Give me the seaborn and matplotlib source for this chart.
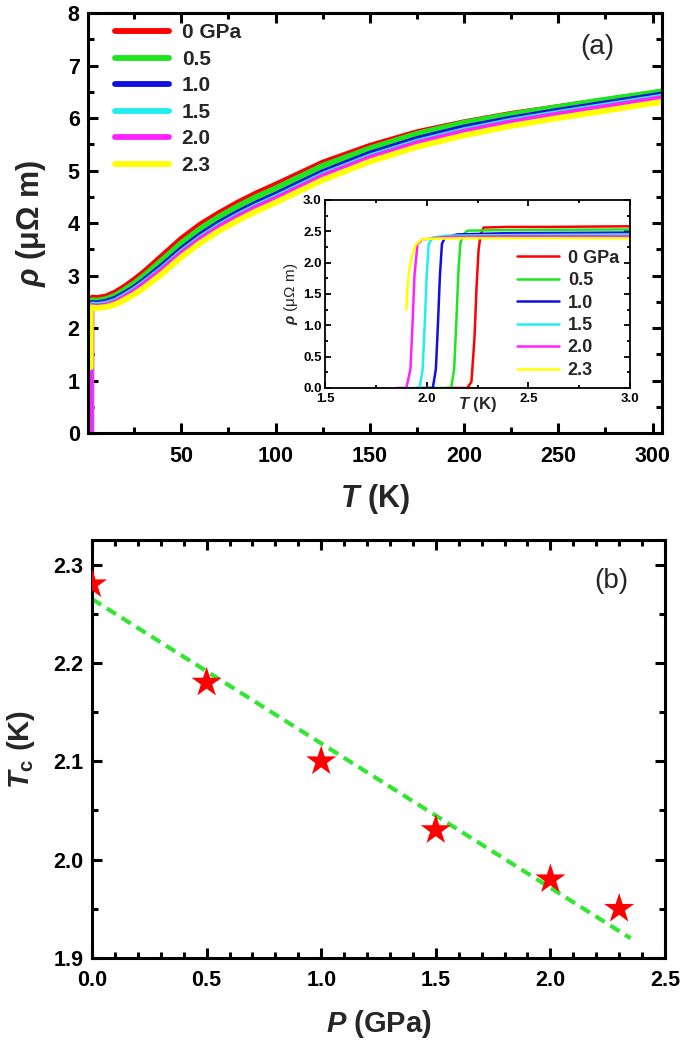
import pandas as pd
import seaborn as sns
import matplotlib.pyplot as plt
from matplotlib.ticker import MultipleLocator

sns.set_style("ticks")
plt.rcParams['font.family'] = ['Liberation Sans', 'DejaVu Sans']
plt.rcParams['font.weight'] = 'bold'
plt.rcParams['mathtext.fontset'] = 'custom'
plt.rcParams['mathtext.it'] = 'Liberation Sans:italic:bold'
plt.rcParams['mathtext.rm'] = 'Liberation Sans:bold'
plt.rcParams['mathtext.bf'] = 'Liberation Sans:bold'

pressures = ["0 GPa", "0.5", "1.0", "1.5", "2.0", "2.3"]
colors = ["#ff0000", "#1ee61e", "#1010dd", "#22eeee", "#ff22ff", "#ffff00"]

# superconducting transition
t_sc_00 = [2.10, 2.20, 2.22, 2.235, 2.245, 2.255, 2.265, 2.28, 2.40, 2.60, 3.00]
rho_sc_00 = [0.00, 0.00, 0.10, 0.80, 1.60, 2.20, 2.45, 2.56, 2.57, 2.57, 2.58]
t_sc_05 = [2.00, 2.12, 2.135, 2.145, 2.155, 2.165, 2.18, 2.20, 2.40, 3.00]
rho_sc_05 = [0.00, 0.00, 0.30, 1.00, 1.80, 2.30, 2.45, 2.51, 2.52, 2.53]
t_sc_10 = [1.95, 2.03, 2.045, 2.055, 2.065, 2.075, 2.09, 2.15, 2.40, 3.00]
rho_sc_10 = [0.00, 0.00, 0.30, 1.00, 1.80, 2.30, 2.40, 2.45, 2.47, 2.48]
t_sc_15 = [1.88, 1.965, 1.98, 1.99, 2.00, 2.01, 2.03, 2.10, 2.40, 3.00]
rho_sc_15 = [0.00, 0.00, 0.30, 1.00, 1.80, 2.30, 2.40, 2.43, 2.44, 2.45]
t_sc_20 = [1.85, 1.90, 1.92, 1.93, 1.94, 1.955, 1.98, 2.10, 2.40, 3.00]
rho_sc_20 = [0.00, 0.00, 0.30, 1.00, 1.80, 2.30, 2.37, 2.41, 2.42, 2.42]
t_sc_23 = [1.90, 1.905, 1.915, 1.927, 1.945, 1.97, 2.00, 2.20, 3.00]
rho_sc_23 = [1.25, 1.60, 1.90, 2.10, 2.28, 2.36, 2.38, 2.39, 2.39]

# normal state
t_n = [5, 10, 15, 20, 25, 30, 40, 50, 60, 70, 80, 90, 100,
       125, 150, 175, 200, 225, 250, 275, 300, 305]
rho_n_00 = [2.57, 2.60, 2.68, 2.79, 2.92, 3.06, 3.38, 3.70, 3.97, 4.19, 4.39, 4.57, 4.73,
            5.15, 5.47, 5.73, 5.92, 6.08, 6.21, 6.34, 6.47, 6.50]
rho_n_05 = [2.52, 2.55, 2.62, 2.73, 2.85, 2.99, 3.30, 3.62, 3.89, 4.12, 4.32, 4.50, 4.66,
            5.09, 5.42, 5.70, 5.91, 6.07, 6.21, 6.35, 6.48, 6.51]
rho_n_10 = [2.47, 2.50, 2.56, 2.66, 2.77, 2.90, 3.19, 3.50, 3.77, 4.00, 4.20, 4.38, 4.54,
            4.97, 5.32, 5.60, 5.82, 5.99, 6.14, 6.28, 6.42, 6.45]
rho_n_15 = [2.44, 2.46, 2.52, 2.62, 2.73, 2.86, 3.14, 3.45, 3.72, 3.95, 4.15, 4.33, 4.49,
            4.92, 5.27, 5.55, 5.77, 5.95, 6.10, 6.24, 6.38, 6.41]
rho_n_20 = [2.41, 2.43, 2.49, 2.59, 2.70, 2.83, 3.11, 3.42, 3.69, 3.92, 4.12, 4.30, 4.46,
            4.89, 5.24, 5.52, 5.74, 5.92, 6.07, 6.21, 6.35, 6.38]
rho_n_23 = [2.38, 2.40, 2.45, 2.54, 2.64, 2.76, 3.04, 3.35, 3.62, 3.85, 4.05, 4.23, 4.39,
            4.82, 5.17, 5.45, 5.67, 5.85, 6.00, 6.14, 6.28, 6.31]

# Tc vs pressure
p_gpa = [0.0, 0.5, 1.0, 1.5, 2.0, 2.3]
tc_k = [2.28, 2.18, 2.10, 2.03, 1.98, 1.95]
fit_p = [0.0, 2.35]
fit_tc = [2.265, 1.92]

t_sc = [t_sc_00, t_sc_05, t_sc_10, t_sc_15, t_sc_20, t_sc_23]
rho_sc = [rho_sc_00, rho_sc_05, rho_sc_10, rho_sc_15, rho_sc_20, rho_sc_23]
rho_n = [rho_n_00, rho_n_05, rho_n_10, rho_n_15, rho_n_20, rho_n_23]

frames = []
for p, ts, rs, rn in zip(pressures, t_sc, rho_sc, rho_n):
    frames.append(pd.DataFrame({'T': ts + t_n, 'rho': rs + rn, 'P': p}))
df = pd.concat(frames, ignore_index=True)


def style_axis(ax, lw=2.2, maj=7, mino=4, size=15, padx=9, pady=6):
    for s in ax.spines.values():
        s.set_linewidth(lw)
        s.set_color('black')
    ax.tick_params(which='both', direction='in', top=True, right=True,
                   width=lw, colors='black', labelsize=size)
    ax.tick_params(axis='x', pad=padx)
    ax.tick_params(axis='y', pad=pady)
    ax.tick_params(which='major', length=maj)
    ax.tick_params(which='minor', length=mino)
    for lab in ax.get_xticklabels() + ax.get_yticklabels():
        lab.set_fontweight('bold')


fig = plt.figure(figsize=(6.85, 10.48), dpi=100)

# ---- panel (a)
ax1 = fig.add_axes([0.1285, 0.5868, 0.838, 0.4008])
for p, c in zip(pressures, colors):
    sns.lineplot(data=df[df.P == p], x='T', y='rho', color=c, lw=4.2,
                 label=p, sort=False, estimator=None, ax=ax1)
ax1.set_xlim(0.5, 305)
ax1.set_ylim(0, 8)
ax1.xaxis.set_major_locator(MultipleLocator(50))
ax1.xaxis.set_minor_locator(MultipleLocator(25))
ax1.yaxis.set_major_locator(MultipleLocator(1))
ax1.yaxis.set_minor_locator(MultipleLocator(0.5))
style_axis(ax1, size=15.5)
ax1.set_xlabel(r'$T$ (K)', fontsize=22, fontweight='bold', labelpad=11)
ax1.set_ylabel(r'$\rho$ (μΩ m)', fontsize=22, fontweight='bold', labelpad=14)
ax1.legend(loc='upper left', bbox_to_anchor=(0.047, 0.975), frameon=False,
           handlelength=2.6, handletextpad=0.6, labelspacing=0.36,
           borderaxespad=0, borderpad=0, prop={'weight': 'bold', 'size': 15})
ax1.text(0.887, 0.92, '(a)', transform=ax1.transAxes, fontsize=20,
         fontweight='normal', ha='center', va='center')

# ---- inset
axin = fig.add_axes([0.4745, 0.6298, 0.4453, 0.1794])
for p, c in zip(pressures, colors):
    sns.lineplot(data=df[df.P == p], x='T', y='rho', color=c, lw=1.8,
                 label=p, sort=False, estimator=None, ax=axin)
axin.set_xlim(1.5, 3.0)
axin.set_ylim(0, 3.0)
axin.xaxis.set_major_locator(MultipleLocator(0.5))
axin.xaxis.set_minor_locator(MultipleLocator(0.25))
axin.yaxis.set_major_locator(MultipleLocator(0.5))
axin.yaxis.set_minor_locator(MultipleLocator(0.25))
style_axis(axin, lw=1.3, maj=4, mino=2.5, size=9.5, padx=3.5, pady=2.5)
axin.set_xlabel(r'$T$ (K)', fontsize=12, fontweight='bold')
axin.xaxis.set_label_coords(0.5, -0.04)
axin.set_ylabel(r'$\rho$ (μΩ m)', fontsize=11, fontweight='normal', labelpad=2)
axin.legend(loc='upper left', bbox_to_anchor=(0.63, 0.735), frameon=False,
            handlelength=2.3, handletextpad=0.5, labelspacing=0.3,
            borderaxespad=0, borderpad=0, prop={'weight': 'bold', 'size': 13})

# ---- panel (b)
ax2 = fig.add_axes([0.1343, 0.0859, 0.8365, 0.3988])
sns.lineplot(x=fit_p, y=fit_tc, color='#33e633', lw=3, ax=ax2, zorder=2)
ax2.lines[-1].set_dashes((2.6, 1.6))
sns.scatterplot(x=p_gpa, y=tc_k, marker='*', s=520, color='red',
                edgecolor='none', ax=ax2, zorder=3)
ax2.set_xlim(0, 2.5)
ax2.set_ylim(1.9, 2.325)
ax2.xaxis.set_major_locator(MultipleLocator(0.5))
ax2.xaxis.set_minor_locator(MultipleLocator(0.1))
ax2.yaxis.set_major_locator(MultipleLocator(0.1))
ax2.yaxis.set_minor_locator(MultipleLocator(0.05))
style_axis(ax2, size=15.5)
ax2.set_xlabel(r'$P$ (GPa)', fontsize=21, fontweight='bold', labelpad=12)
ax2.set_ylabel(r'$T_{\rm c}$ (K)', fontsize=21, fontweight='bold', labelpad=12)
ax2.text(0.907, 0.902, '(b)', transform=ax2.transAxes, fontsize=20,
         fontweight='normal', ha='center', va='center')

fig.savefig('out.png', dpi=100)
